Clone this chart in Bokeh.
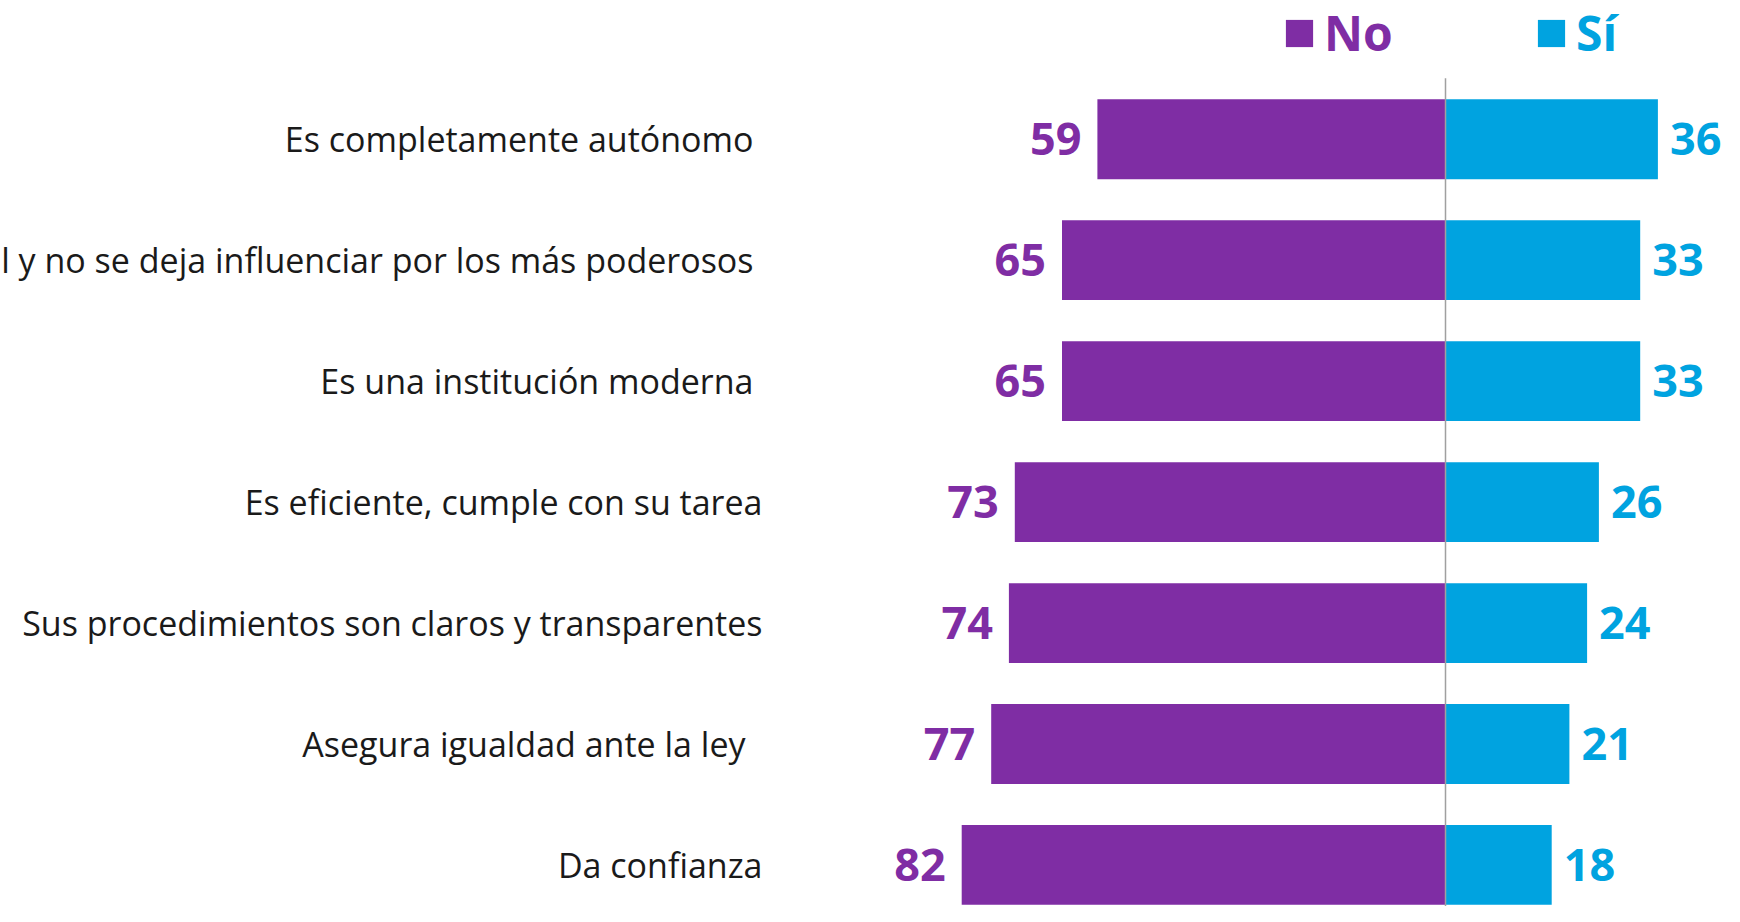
from bokeh.plotting import figure
from bokeh.models import Range1d, Legend, LegendItem, ColumnDataSource
from bokeh.core.properties import value
from bokeh.embed import file_html
from bokeh.resources import INLINE

# ---- data ----
categories = [
    "Es completamente autónomo",
    "l y no se deja influenciar por los más poderosos",
    "Es una institución moderna",
    "Es eficiente, cumple con su tarea",
    "Sus procedimientos son claros y transparentes",
    "Asegura igualdad ante la ley",
    "Da confianza",
]
no_values = [59, 65, 65, 73, 74, 77, 82]
si_values = [36, 33, 33, 26, 24, 21, 18]
series = ["No", "Sí"]
colors = ["#7F2DA4", "#00A3E0"]

# ---- layout (pixels) ----
W, H = 1724, 906
PX_PER_UNIT = 5.9
CENTER_PX = 1445.0
ROW_PX = 120.95
FIRST_ROW_PX = 138.75
LABEL_RIGHT_PX = 762.0
label_pad_px = [9, 9, 9, 0, 0, 17, 0]   # trailing space in original labels

x_start = -CENTER_PX / PX_PER_UNIT
x_end = (W - CENTER_PX) / PX_PER_UNIT
y_top = -FIRST_ROW_PX / ROW_PX
y_bottom = (H - FIRST_ROW_PX) / ROW_PX
label_x = (LABEL_RIGHT_PX - CENTER_PX) / PX_PER_UNIT

p = figure(width=W, height=H,
           x_range=Range1d(x_start, x_end), y_range=Range1d(y_bottom, y_top),
           output_backend="svg", toolbar_location=None,
           x_axis_location=None, y_axis_location=None,
           min_border_left=0, min_border_right=0, min_border_top=0, min_border_bottom=0)
p.grid.visible = False
p.outline_line_color = None
p.background_fill_color = "white"
p.border_fill_color = "white"

rows = list(range(len(categories)))
src = ColumnDataSource(dict(
    y=rows,
    no=[-v for v in no_values],
    si=si_values,
    no_lbl=[str(v) for v in no_values],
    si_lbl=[str(v) for v in si_values],
    cat=categories,
    cat_off=[-d for d in label_pad_px],
))

r_no = p.hbar(y="y", left="no", right=0, height=0.66, fill_color=colors[0],
              line_color=None, source=src)
r_si = p.hbar(y="y", left=0, right="si", height=0.66, fill_color=colors[1],
              line_color=None, source=src)

p.segment(x0=0, y0=-0.505, x1=0, y1=y_bottom, line_color="#A0A0A0", line_width=1.5)

p.text(x="no", y="y", text="no_lbl", x_offset=-16, text_align="right",
       text_baseline="middle", text_font=value("Open Sans"), text_font_style="bold",
       text_font_size="45px", text_color=colors[0], source=src)
p.text(x="si", y="y", text="si_lbl", x_offset=12, text_align="left",
       text_baseline="middle", text_font=value("Open Sans"), text_font_style="bold",
       text_font_size="45px", text_color=colors[1], source=src)

p.text(x=label_x, y="y", text="cat", x_offset="cat_off", text_align="right",
       text_baseline="middle", text_font=value("Open Sans"), text_font_size="34px",
       text_color="#1A1A1A", source=src)

def make_legend(label, renderer, color, x):
    leg = Legend(items=[LegendItem(label=label, renderers=[renderer])],
                 location=(x, 841), orientation="horizontal",
                 padding=0, margin=0, spacing=0,
                 glyph_width=34, glyph_height=34, label_standoff=8,
                 label_text_font="Open Sans", label_text_font_style="bold",
                 label_text_font_size="48px", label_text_color=color,
                 border_line_color=None, background_fill_alpha=0)
    p.add_layout(leg)

make_legend(series[0], r_no, colors[0], 1282)
make_legend(series[1], r_si, colors[1], 1534)

open("out.html", "w").write(file_html(p, INLINE))
